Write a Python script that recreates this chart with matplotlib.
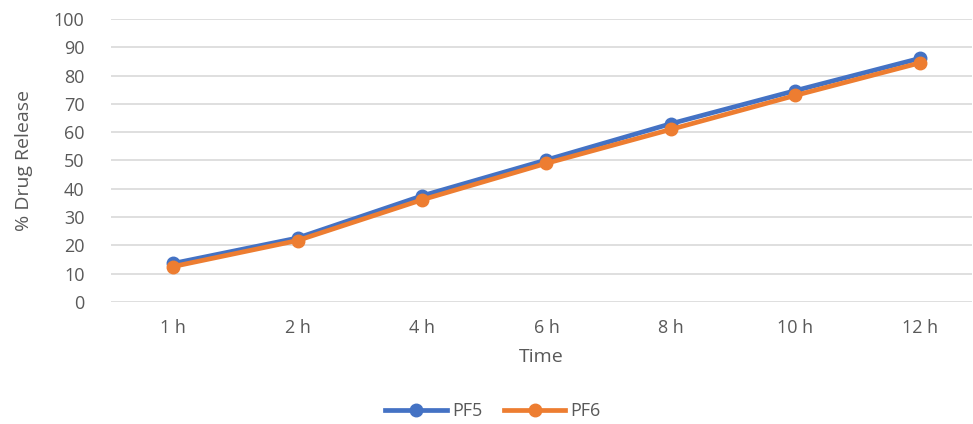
import matplotlib.pyplot as plt

plt.rcParams['font.family'] = ['Open Sans', 'DejaVu Sans']

times = ["1 h", "2 h", "4 h", "6 h", "8 h", "10 h", "12 h"]
pf5 = [13.6, 22.6, 37.5, 50.2, 63.0, 74.7, 86.1]
pf6 = [12.5, 21.7, 36.1, 49.0, 61.0, 73.0, 84.5]

blue = '#4472C4'
orange = '#ED7D31'
grey_text = '#595959'

fig = plt.figure(figsize=(9.73, 4.24), dpi=100)
ax = fig.add_axes([0.114, 0.288, 0.885, 0.667])

x = range(len(times))
ax.plot(x, pf5, color=blue, lw=3.4, marker='o', markersize=9, label='PF5', zorder=3)
ax.plot(x, pf6, color=orange, lw=3.4, marker='o', markersize=9, label='PF6', zorder=4)

ax.set_xlim(-0.5, 6.42)
ax.set_ylim(0, 100)
ax.set_yticks(range(0, 101, 10))
ax.set_xticks(list(x), labels=times)
ax.yaxis.grid(True, color='#D9D9D9', lw=1.2)
ax.set_axisbelow(True)
for s in ax.spines.values():
    s.set_visible(False)
ax.tick_params(axis='both', length=0, labelsize=13, labelcolor=grey_text)
ax.tick_params(axis='y', pad=19)
ax.tick_params(axis='x', pad=12)

ax.set_xlabel("Time", fontsize=14, color=grey_text, labelpad=8)
ax.set_ylabel("% Drug Release", fontsize=14, color=grey_text, labelpad=15)

ax.legend(loc='center', bbox_to_anchor=(493 / 973, 1 - 411 / 424), bbox_transform=fig.transFigure,
          ncol=2, frameon=False, fontsize=13, labelcolor=grey_text, handlelength=3.4, columnspacing=1.2,
          handletextpad=0.3)

fig.savefig('out.png', dpi=100)
